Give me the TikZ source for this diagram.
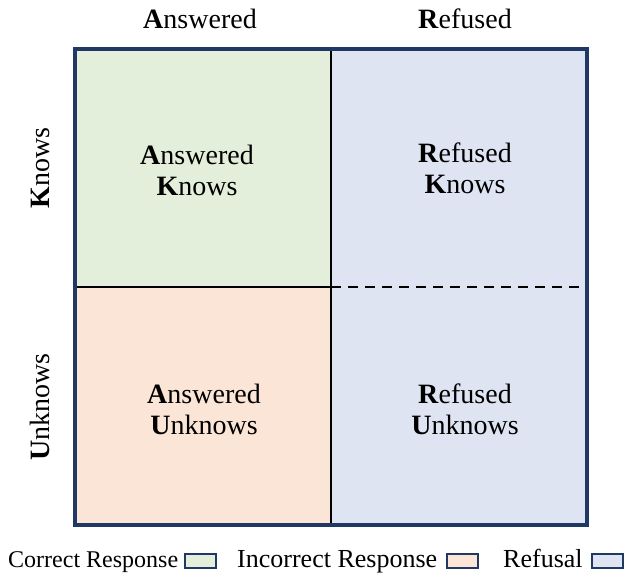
\documentclass[tikz,border=0pt]{standalone}
\usepackage{fontspec}
\setmainfont{Liberation Serif}
\definecolor{navy}{HTML}{1F3864}
\definecolor{cgreen}{HTML}{E3EFDA}
\definecolor{cpeach}{HTML}{FBE5D7}
\definecolor{cblue}{HTML}{DEE4F2}
\begin{document}
\begin{tikzpicture}[x=1bp,y=-1bp,
  celltext/.style={align=center,inner sep=0pt,font=\fontsize{28bp}{31bp}\selectfont},
  headtext/.style={inner sep=0pt,anchor=base,font=\fontsize{28bp}{31bp}\selectfont},
  sidetext/.style={inner sep=0pt,rotate=90,font=\fontsize{28bp}{31bp}\selectfont},
  legtext/.style={inner sep=0pt,anchor=base west,font=\fontsize{26bp}{30bp}\selectfont},
  legbox/.style={draw=navy,line width=2bp,minimum width=31bp,minimum height=14bp,inner sep=0pt,anchor=north west},
  divider/.style={draw=black,line width=2.6bp},
  outer/.style={draw=navy,line width=3.2bp}]
\useasboundingbox (0,0) rectangle (626,578);
% quadrant fills
\fill[cgreen] (75,49) rectangle (331,287);
\fill[cpeach] (75,287) rectangle (331,525);
\fill[cblue] (331,49) rectangle (587,525);
% dividers
\coordinate (vt) at (331,49);
\coordinate (vb) at (331,525);
\coordinate (hl) at (75,287);
\coordinate (hm) at (331,287);
\coordinate (hr) at (587,287);
\draw[divider] (vt) -- (vb);
\draw[divider] (hl) -- (hm);
\draw[divider,dash pattern=on 9.5bp off 7.5bp] (hm) -- (hr);
\draw[outer] (75,49) rectangle (587,525);
% cell texts
\node[celltext] (ak) at (197,170) {\textbf{A}nswered\\\textbf{K}nows};
\node[celltext] (rk) at (465,168) {\textbf{R}efused\\\textbf{K}nows};
\node[celltext] (au) at (204,409) {\textbf{A}nswered\\\textbf{U}nknows};
\node[celltext] (ru) at (465,409) {\textbf{R}efused\\\textbf{U}nknows};
% headers
\node[headtext] (ha) at (200,29) {\textbf{A}nswered};
\node[headtext] (hr2) at (465,29) {\textbf{R}efused};
\node[sidetext] (sk) at (40,168) {\textbf{K}nows};
\node[sidetext] (su) at (40,407) {\textbf{U}nknows};
% legend
\node[legtext,font=\fontsize{24bp}{28bp}\selectfont] (lc) at (8,567) {Correct Response};
\node[legbox,fill=cgreen] (bc) at (184,553) {};
\node[legtext] (li) at (237,567) {Incorrect Response};
\node[legbox,fill=cpeach] (bi) at (446,553) {};
\node[legtext] (lr) at (503,567) {Refusal};
\node[legbox,fill=cblue] (br) at (591,553) {};
\end{tikzpicture}
\end{document}
